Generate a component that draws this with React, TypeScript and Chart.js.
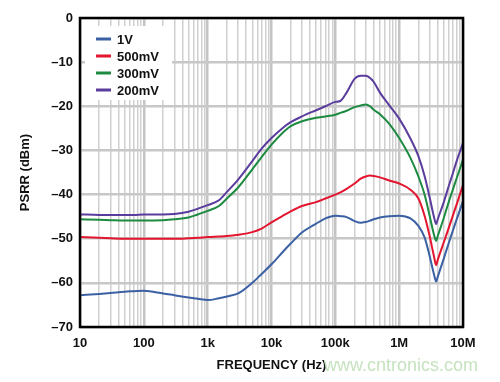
import React, { useEffect, useRef } from "react";
import { Chart, registerables } from "chart.js";
Chart.register(...registerables);

const frequencies = [10, 20, 30, 50, 70, 100, 200, 300, 500, 700, 1e3, 1.5e3, 2e3, 3e3, 5e3, 7e3, 1e4, 1.5e4, 2e4, 3e4, 5e4, 7e4, 1e5, 1.2e5, 1.5e5, 2e5, 2.5e5, 3e5, 3.5e5, 4e5, 5e5, 7e5, 1e6, 1.5e6, 2e6, 2.5e6, 3e6, 3.5e6, 3.8e6, 4e6, 5e6, 6e6, 7e6, 8e6, 1e7];

const psrr1V = [-62.8, -62.5, -62.3, -62.0, -61.9, -61.8, -62.4, -62.8, -63.3, -63.6, -63.9, -63.5, -63.1, -62.4, -60.0, -58.0, -55.8, -53.0, -51.1, -48.6, -46.6, -45.4, -44.8, -44.9, -45.1, -46.0, -46.4, -46.2, -45.9, -45.6, -45.2, -44.9, -44.8, -45.4, -47.1, -49.7, -53.9, -58.0, -59.7, -58.7, -54.5, -50.9, -48.0, -45.5, -41.5];
const psrr500mV = [-49.6, -49.8, -49.9, -50.0, -50.0, -50.0, -50.0, -50.0, -49.9, -49.8, -49.6, -49.5, -49.4, -49.1, -48.5, -47.7, -46.3, -44.8, -43.8, -42.6, -41.7, -40.9, -40.0, -39.5, -38.7, -37.5, -36.4, -35.9, -35.7, -35.8, -36.1, -36.8, -37.5, -38.9, -40.9, -44.8, -49.4, -53.9, -56.0, -54.9, -50.8, -47.5, -44.6, -42.1, -37.8];
const psrr300mV = [-45.6, -45.7, -45.8, -45.9, -45.9, -45.9, -45.8, -45.6, -45.2, -44.5, -43.7, -42.6, -40.9, -38.4, -34.3, -31.5, -28.7, -26.0, -24.5, -23.4, -22.6, -22.3, -21.9, -21.5, -21.0, -20.2, -19.8, -19.6, -20.0, -20.8, -21.8, -24.0, -27.2, -31.7, -35.9, -40.0, -44.8, -49.0, -50.5, -49.5, -45.3, -41.6, -38.7, -36.2, -32.1];
const psrr200mV = [-44.5, -44.6, -44.6, -44.6, -44.6, -44.5, -44.5, -44.4, -43.9, -43.2, -42.4, -41.3, -39.4, -36.6, -32.4, -29.6, -27.2, -24.9, -23.6, -22.3, -20.9, -20.0, -19.0, -18.8, -16.9, -13.8, -13.1, -13.1, -13.6, -14.5, -16.9, -19.8, -22.8, -27.3, -31.3, -35.8, -40.6, -45.0, -46.7, -45.7, -41.7, -38.0, -35.0, -32.3, -28.3];

const seriesNames = ["1V", "500mV", "300mV", "200mV"];
const seriesColors = ["#3b60a3", "#e3152f", "#1c8a40", "#5a3c9c"];

const xTickValues = [10, 100, 1e3, 1e4, 1e5, 1e6, 1e7];
const xTickLabels = ["10", "100", "1k", "10k", "100k", "1M", "10M"];
const yTickValues = [0, -10, -20, -30, -40, -50, -60, -70];
const yTickLabels = ["0", "\u201310", "\u201320", "\u201330", "\u201340", "\u201350", "\u201360", "\u201370"];

const xTitle = "FREQUENCY (Hz)";
const yTitle = "PSRR (dBm)";
const watermark = "www.cntronics.com";

const FONT = "'Liberation Sans', Arial, Helvetica, sans-serif";

function isDecade(v: number) {
  const l = Math.log10(v);
  return Math.abs(l - Math.round(l)) < 1e-6;
}

export default function App() {
  const ref = useRef<HTMLCanvasElement | null>(null);
  useEffect(() => {
    document.body.style.margin = "0";
    const canvas = ref.current;
    if (!canvas) return;
    const all = [psrr1V, psrr500mV, psrr300mV, psrr200mV];
    const gridValues: number[] = [];
    for (let d = 1; d < 7; d++) {
      for (let k = 1; k <= 9; k++) gridValues.push(k * Math.pow(10, d));
    }
    gridValues.push(1e7);

    const overlay = {
      id: "overlay",
      beforeDatasetsDraw(chart: any) {
        const { ctx, chartArea } = chart;
        const lx = chartArea.left + 5;
        const ly = chartArea.top + 8;
        ctx.save();
        ctx.fillStyle = "#ffffff";
        ctx.fillRect(lx, ly, 87, 74);
        ctx.font = `bold 13px ${FONT}`;
        ctx.textBaseline = "middle";
        ctx.textAlign = "left";
        seriesNames.forEach((name, i) => {
          const y = ly + 13 + i * 17;
          ctx.strokeStyle = seriesColors[i];
          ctx.lineWidth = 3;
          ctx.beginPath();
          ctx.moveTo(lx + 11, y);
          ctx.lineTo(lx + 26, y);
          ctx.stroke();
          ctx.fillStyle = "#111";
          ctx.fillText(name, lx + 32, y + 1);
        });
        ctx.restore();
      },
      afterDatasetsDraw(chart: any) {
        const { ctx, chartArea } = chart;
        ctx.save();
        ctx.strokeStyle = "#000";
        ctx.lineWidth = 2.5;
        ctx.strokeRect(chartArea.left, chartArea.top, chartArea.right - chartArea.left, chartArea.bottom - chartArea.top);
        ctx.restore();
      },
      afterDraw(chart: any) {
        const { ctx, chartArea } = chart;
        ctx.save();
        ctx.fillStyle = "#111";
        ctx.font = `bold 13px ${FONT}`;
        ctx.textAlign = "center";
        ctx.textBaseline = "middle";
        ctx.fillText(xTitle, (chartArea.left + chartArea.right) / 2, 365);
        ctx.translate(25, (chartArea.top + chartArea.bottom) / 2);
        ctx.rotate(-Math.PI / 2);
        ctx.fillText(yTitle, 0, 0);
        ctx.restore();
        ctx.save();
        ctx.fillStyle = "#c6e3bf";
        ctx.font = `18px ${FONT}`;
        ctx.textAlign = "left";
        ctx.textBaseline = "middle";
        ctx.fillText(watermark, 324, 366);
        ctx.restore();
      },
    };

    const chart = new Chart(canvas, {
      type: "line",
      data: {
        datasets: all.map((vals, i) => ({
          label: seriesNames[i],
          data: frequencies.map((f, j) => ({ x: f, y: vals[j] })),
          borderColor: seriesColors[i],
          backgroundColor: seriesColors[i],
          borderWidth: 2,
          pointRadius: 0,
          cubicInterpolationMode: "monotone" as const,
          fill: false,
        })),
      },
      options: {
        animation: false,
        responsive: false,
        maintainAspectRatio: false,
        layout: { padding: { top: 18, right: 37, bottom: 0, left: 0 } },
        plugins: { legend: { display: false }, tooltip: { enabled: false } },
        scales: {
          x: {
            type: "logarithmic",
            min: 10,
            max: 1e7,
            afterBuildTicks: (scale: any) => {
              scale.ticks = gridValues.map((v) => ({ value: v }));
            },
            afterFit: (scale: any) => {
              scale.height = 55;
            },
            grid: {
              drawTicks: false,
              color: (c: any) => (c.tick && isDecade(c.tick.value) ? "#c4c4c4" : "#d0d0d0"),
              lineWidth: (c: any) => (c.tick && isDecade(c.tick.value) ? 2.5 : 1.5),
            },
            border: { display: false },
            ticks: {
              autoSkip: false,
              maxRotation: 0,
              padding: 9,
              color: "#111",
              font: { family: FONT, size: 13, weight: "bold" },
              callback: (v: any) => {
                const idx = xTickValues.findIndex((t) => Math.abs(t - Number(v)) < 1e-6 * t);
                return idx >= 0 ? xTickLabels[idx] : "";
              },
            },
          },
          y: {
            type: "linear",
            min: -70,
            max: 0,
            afterBuildTicks: (scale: any) => {
              scale.ticks = yTickValues.map((v) => ({ value: v }));
            },
            afterFit: (scale: any) => {
              scale.width = 80;
            },
            grid: { drawTicks: false, color: "#c8c8c8", lineWidth: 2.5 },
            border: { display: false },
            ticks: {
              padding: 7,
              color: "#111",
              font: { family: FONT, size: 13, weight: "bold" },
              callback: (v: any) => {
                const idx = yTickValues.indexOf(Number(v));
                return idx >= 0 ? yTickLabels[idx] : "";
              },
            },
          },
        },
      },
      plugins: [overlay],
    } as any);
    return () => chart.destroy();
  }, []);
  return (
    <div style={{ width: 500, height: 382, background: "#fff" }}>
      <canvas ref={ref} width={500} height={382} style={{ display: "block" }} />
    </div>
  );
}
